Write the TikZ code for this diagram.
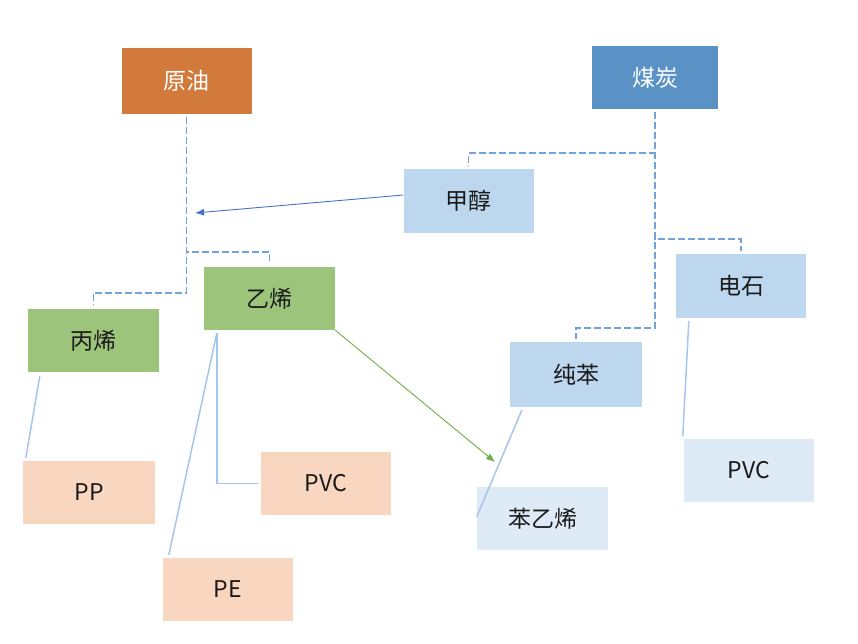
\documentclass[tikz,border=0pt]{standalone}
\usepackage{fontspec}
\setmainfont{Noto Sans CJK SC}
\usepackage{tikz}
\usetikzlibrary{calc,arrows.meta}
\usetikzlibrary{positioning}
\definecolor{ch-oil}{HTML}{D27A3C}
\definecolor{ch-coal}{HTML}{5A92C6}
\definecolor{ch-mid}{HTML}{BDD7EE}
\definecolor{ch-green}{HTML}{9CC47B}
\definecolor{ch-peach}{HTML}{F9D6BF}
\definecolor{ch-pale}{HTML}{DEEBF7}
\definecolor{ch-dash}{HTML}{6FA3DA}
\definecolor{ch-link}{HTML}{A3C6EA}
\definecolor{ch-arrow}{HTML}{4472C4}
\definecolor{ch-garrow}{HTML}{70AD47}

\begin{document}
\begin{tikzpicture}[
    x=1pt, y=-1pt,
    % box styles
    box/.style={minimum width=130pt, minimum height=64pt, inner sep=0pt,
      font=\fontsize{23}{27}\selectfont, text=black!90},
    source/.style={box, text=white},
    tree/.style={draw=ch-dash, line width=1.8pt, dash pattern=on 7pt off 3pt},
    link/.style={draw=ch-link, line width=1.5pt},
    flow/.style={-{Latex[length=9pt,width=7pt]}, line width=0.9pt}
  ]
  \useasboundingbox (0,0) rectangle (858,643);

  % =========================================================================
  % RAW MATERIALS
  % =========================================================================
  \node[source, fill=ch-oil, minimum height=66pt] (oil) at (186.5,81) {原油};
  \node[source, fill=ch-coal, minimum width=126pt, minimum height=63pt] (coal) at (655,77.5) {煤炭};

  % =========================================================================
  % INTERMEDIATES
  % =========================================================================
  \node[box, fill=ch-mid] (methanol) at (468.5,201) {甲醇};
  \node[box, fill=ch-mid] (carbide) at (741,286) {电石};
  \node[box, fill=ch-green, minimum width=131pt, minimum height=63pt] (ethylene) at (269.5,298.5) {乙烯};
  \node[box, fill=ch-green, minimum width=131pt, minimum height=63pt] (propylene) at (93.5,340.5) {丙烯};
  \node[box, fill=ch-mid, minimum width=132pt, minimum height=65pt] (benzene) at (576,374.5) {纯苯};

  % =========================================================================
  % PRODUCTS
  % =========================================================================
  \node[box, fill=ch-peach, minimum width=132pt, minimum height=63pt] (pp) at (89,492.5) {PP};
  \node[box, fill=ch-peach, minimum height=63pt] (pvcl) at (326,483.5) {PVC};
  \node[box, fill=ch-peach, minimum height=63pt] (pe) at (228,589.5) {PE};
  \node[box, fill=ch-pale, minimum width=131pt, minimum height=63pt] (styrene) at (542.5,518.5) {苯乙烯};
  \node[box, fill=ch-pale, minimum height=63pt] (pvcr) at (749,470.5) {PVC};

  % dashed trees
  \draw[tree, shorten <=3pt, shorten >=4pt] (oil.south) |- ([yshift=15pt]ethylene.north) -- (ethylene.north);
  \draw[tree, shorten <=3pt, shorten >=4pt] (oil.south) |- ([yshift=16pt]propylene.north) -- (propylene.north);
  \draw[tree, shorten <=3pt, shorten >=3pt] (coal.south) |- ([yshift=16pt]methanol.north) -- (methanol.north);
  \draw[tree, shorten <=3pt, shorten >=3pt] (coal.south) |- ([yshift=15pt]carbide.north) -- (carbide.north);
  \draw[tree, shorten <=3pt, shorten >=3pt] (coal.south) |- ([yshift=14pt]benzene.north) -- (benzene.north);

  % product links
  \draw[link] ([xshift=12pt,yshift=-4pt]propylene.south west) -- ([xshift=3pt,yshift=3pt]pp.north west);
  \draw[link] ([xshift=13pt,yshift=-3pt]ethylene.south west) -- ([xshift=6pt,yshift=3pt]pe.north west);
  \draw[link, shorten >=3pt] ([xshift=13pt,yshift=-3pt]ethylene.south west) |- (pvcl.west);
  \draw[link] ([xshift=12pt,yshift=-3pt]benzene.south west) -- ([yshift=2pt]styrene.west);
  \draw[link] ([xshift=13pt,yshift=-3pt]carbide.south west) -- ([xshift=-1pt,yshift=3pt]pvcr.north west);

  % cross arrows
  \coordinate (mjoin) at (195,213);
  \coordinate (sjoin) at (495,462);
  \draw[flow, ch-arrow] ([yshift=6pt]methanol.west) -- (mjoin);
  \draw[flow, ch-garrow] (ethylene.south east) -- (sjoin);

\end{tikzpicture}
\end{document}
